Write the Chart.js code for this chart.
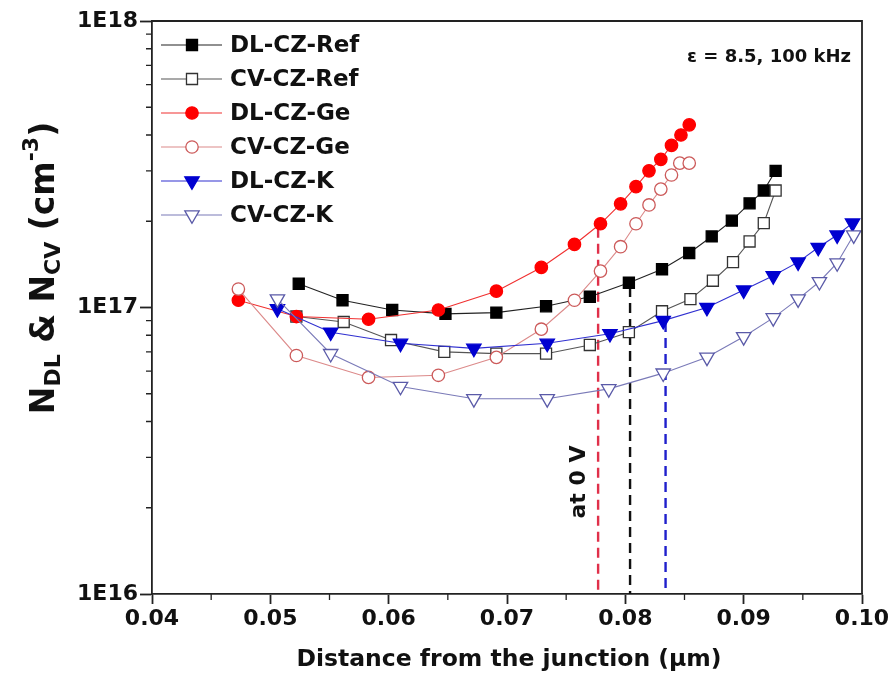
<!DOCTYPE html>
<html><head><meta charset="utf-8">
<script src="https://cdn.jsdelivr.net/npm/chart.js@4/dist/chart.umd.min.js"></script>
<style>html,body{margin:0;padding:0;background:#fff;}#wrap{width:894px;height:691px;}</style>
</head><body><div id="wrap"><canvas id="c" width="894" height="691"></canvas></div>
<script>
// ---------- data ----------
const seriesNames = ['DL-CZ-Ref','CV-CZ-Ref','DL-CZ-Ge','CV-CZ-Ge','DL-CZ-K','CV-CZ-K'];
const xDLRef = [0.0524,0.0561,0.0603,0.0648,0.0691,0.0733,0.0770,0.0803,0.0831,0.0854,0.0873,0.0890,0.0905,0.0917,0.0927];
const yDLRef = [1.21e17,1.06e17,0.98e17,0.95e17,0.96e17,1.01e17,1.09e17,1.22e17,1.36e17,1.55e17,1.77e17,2.01e17,2.31e17,2.56e17,3.00e17];
const xCVRef = [0.0522,0.0562,0.0602,0.0647,0.0691,0.0733,0.0770,0.0803,0.0831,0.0855,0.0874,0.0891,0.0905,0.0917,0.0927];
const yCVRef = [0.93e17,0.89e17,0.77e17,0.70e17,0.69e17,0.69e17,0.74e17,0.82e17,0.97e17,1.07e17,1.24e17,1.44e17,1.70e17,1.97e17,2.56e17];
const xDLGe = [0.0473,0.0522,0.0583,0.0642,0.0691,0.0729,0.0757,0.0779,0.0796,0.0809,0.0820,0.0830,0.0839,0.0847,0.0854];
const yDLGe = [1.06e17,0.93e17,0.91e17,0.98e17,1.14e17,1.38e17,1.66e17,1.96e17,2.30e17,2.64e17,3.00e17,3.29e17,3.68e17,4.00e17,4.34e17];
const xCVGe = [0.0473,0.0522,0.0583,0.0642,0.0691,0.0729,0.0757,0.0779,0.0796,0.0809,0.0820,0.0830,0.0839,0.0846,0.0854];
const yCVGe = [1.16e17,0.68e17,0.57e17,0.58e17,0.67e17,0.84e17,1.06e17,1.34e17,1.63e17,1.96e17,2.28e17,2.59e17,2.90e17,3.19e17,3.19e17];
const xDLK = [0.0506,0.0551,0.0610,0.0672,0.0734,0.0787,0.0832,0.0869,0.0900,0.0925,0.0946,0.0963,0.0979,0.0992];
const yDLK = [0.99e17,0.82e17,0.75e17,0.72e17,0.75e17,0.81e17,0.90e17,1.00e17,1.15e17,1.29e17,1.44e17,1.62e17,1.79e17,1.97e17];
const xCVK = [0.0506,0.0551,0.0610,0.0672,0.0734,0.0786,0.0832,0.0869,0.0900,0.0925,0.0946,0.0964,0.0979,0.0993];
const yCVK = [1.07e17,0.69e17,0.53e17,0.48e17,0.48e17,0.52e17,0.59e17,0.67e17,0.79e17,0.92e17,1.07e17,1.23e17,1.43e17,1.79e17];
// vertical "at 0 V" markers
const zeroVX = [0.0777,0.0804,0.0834];
const zeroVTop = [1.90e17,1.18e17,0.89e17];
const yBottom = 1e16, yTop = 1e18;
const xMin = 0.04, xMax = 0.10, xStep = 0.01;
const xMinor = [0.045,0.055,0.065,0.075,0.085,0.095];
const yMajor = [1e16,1e17,1e18];
const xTitle = 'Distance from the junction (\u03bcm)';
const annotText = '\u03b5 = 8.5, 100 kHz';
const zeroVText = 'at 0 V';

const pts = (xs, ys) => xs.map((v,i)=>({x:v,y:ys[i]}));
const FONT = "'DejaVu Sans', sans-serif";

const styles = [
  {line:'#222', border:'#000', fill:'#000', ps:'rect', r:7.8, rot:0},
  {line:'#555', border:'#333', fill:'#fff', ps:'rect', r:7.8, rot:0},
  {line:'#f03030', border:'#ff0000', fill:'#ff0000', ps:'circle', r:6.2, rot:0},
  {line:'#dc8a8a', border:'#cc5a5a', fill:'#fff', ps:'circle', r:6.2, rot:0},
  {line:'#3030d0', border:'#0000d0', fill:'#0000d0', ps:'triangle', r:8.3, rot:180},
  {line:'#7a7ab8', border:'#5a5aa8', fill:'#fff', ps:'triangle', r:8.3, rot:180}
];
const dataXY = [pts(xDLRef,yDLRef),pts(xCVRef,yCVRef),pts(xDLGe,yDLGe),pts(xCVGe,yCVGe),pts(xDLK,yDLK),pts(xCVK,yCVK)];

const datasets = dataXY.map((d,i)=>({
  label: seriesNames[i], data: d,
  borderColor: styles[i].line, borderWidth: 1.1,
  pointStyle: styles[i].ps, pointRadius: styles[i].r, pointRotation: styles[i].rot,
  pointBackgroundColor: styles[i].fill, pointBorderColor: styles[i].border, pointBorderWidth: 1.3,
  tension: 0, order: 10 - i
}));
const dashColors = ['#e0304a','#111111','#2020cc'];
zeroVX.forEach((xv,i)=>{
  datasets.push({label:'zeroV'+i, data:[{x:xv,y:zeroVTop[i]},{x:xv,y:yBottom}],
    borderColor:dashColors[i], borderWidth:2.4, borderDash:[10,6], pointRadius:0, order:20});
});

const deco = {
  id:'deco',
  afterDraw(chart){
    const {ctx, chartArea:a, scales:{x,y}} = chart;
    ctx.save();
    ctx.strokeStyle='#222'; ctx.lineWidth=1.8;
    ctx.beginPath(); ctx.moveTo(a.left,a.top); ctx.lineTo(a.right,a.top); ctx.lineTo(a.right,a.bottom); ctx.stroke();
    // minor ticks
    ctx.lineWidth=1.3;
    ctx.beginPath();
    xMinor.forEach(v=>{const px=x.getPixelForValue(v); ctx.moveTo(px,a.bottom); ctx.lineTo(px,a.bottom+6);});
    for(let e=16;e<18;e++) for(let m=2;m<=9;m++){const py=y.getPixelForValue(m*Math.pow(10,e)); ctx.moveTo(a.left-6,py); ctx.lineTo(a.left,py);}
    ctx.stroke();
    // legend
    const rows=[45,79,113,147,181,215];
    for(let i=0;i<6;i++){
      const st=styles[i], yy=rows[i];
      ctx.strokeStyle=st.line; ctx.lineWidth=1.1; ctx.setLineDash([]);
      ctx.beginPath(); ctx.moveTo(161,yy); ctx.lineTo(222,yy); ctx.stroke();
      ctx.fillStyle=st.fill; ctx.strokeStyle=st.border; ctx.lineWidth=1.3;
      Chart.helpers.drawPoint(ctx,{pointStyle:st.ps,radius:st.r,rotation:st.rot,borderWidth:1.3},192,yy);
      ctx.fillStyle='#111'; ctx.font='bold 23px '+FONT; ctx.textBaseline='middle'; ctx.textAlign='left';
      ctx.fillText(seriesNames[i],230,yy+1);
    }
    // annotation
    ctx.fillStyle='#111'; ctx.font='bold 18px '+FONT; ctx.textAlign='right'; ctx.textBaseline='middle';
    ctx.fillText(annotText,851,57);
    // x title
    ctx.font='bold 23.5px '+FONT; ctx.textAlign='center'; ctx.textBaseline='middle';
    ctx.fillText(xTitle,509,660);
    // at 0 V
    ctx.save(); ctx.translate(579,482); ctx.rotate(-Math.PI/2);
    ctx.font='bold 22px '+FONT; ctx.textAlign='center'; ctx.textBaseline='middle';
    ctx.fillText(zeroVText,0,0); ctx.restore();
    // y title with sub/superscripts
    const big='bold 33px '+FONT, small='bold 22px '+FONT;
    const segs=[['N',big,0],['DL',small,9],[' & N',big,0],['CV',small,9],[' (cm',big,0],['-3',small,-13],[')',big,0]];
    let tot=0; segs.forEach(s=>{ctx.font=s[1]; tot+=ctx.measureText(s[0]).width;});
    ctx.save(); ctx.translate(45,268); ctx.rotate(-Math.PI/2);
    ctx.textAlign='left'; ctx.textBaseline='middle'; ctx.fillStyle='#111';
    let cx=-tot/2;
    segs.forEach(s=>{ctx.font=s[1]; ctx.fillText(s[0],cx,s[2]); cx+=ctx.measureText(s[0]).width;});
    ctx.restore();
    ctx.restore();
  }
};

new Chart(document.getElementById('c'), {
  type:'line',
  data:{datasets},
  options:{
    responsive:false, animation:false, devicePixelRatio:1,
    layout:{padding:{left:0,top:21,right:32,bottom:0}},
    plugins:{legend:{display:false}, tooltip:{enabled:false}},
    scales:{
      x:{type:'linear', min:xMin, max:xMax,
        afterFit(s){s.height=97;},
        ticks:{stepSize:xStep, color:'#111', font:{family:FONT,size:22,weight:'bold'}, padding:2,
          callback:v=>Number(v).toFixed(2), maxRotation:0},
        grid:{drawOnChartArea:false, drawTicks:true, tickLength:10, tickWidth:1.8, tickColor:'#222'},
        border:{display:true, color:'#222', width:1.8},
        title:{display:false}
      },
      y:{type:'logarithmic', min:yBottom, max:yTop,
        afterFit(s){s.width=152;},
        afterBuildTicks(s){s.ticks=yMajor.map(v=>({value:v}));},
        ticks:{color:'#111', font:{family:FONT,size:22,weight:'bold'}, padding:2,
          callback:v=>'1E'+Math.round(Math.log10(v))},
        grid:{drawOnChartArea:false, drawTicks:true, tickLength:12, tickWidth:1.8, tickColor:'#222'},
        border:{display:true, color:'#222', width:1.8}
      }
    }
  },
  plugins:[deco]
});
</script></body></html>
